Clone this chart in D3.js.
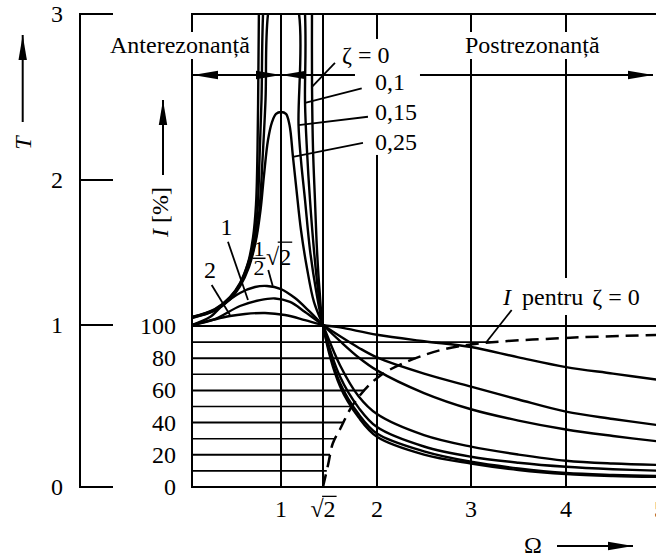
<!DOCTYPE html>
<html><head><meta charset="utf-8">
<script src="https://cdn.jsdelivr.net/npm/d3@7/dist/d3.min.js"></script>
<style>
html,body{margin:0;padding:0;background:#fff;}
svg{display:block;}
text{font-family:"Liberation Serif","Times New Roman",serif;fill:#000;}
</style></head><body>
<svg id="chart" width="656" height="558"></svg>
<script>
const SQ2 = Math.SQRT2;
// ---------- axis ticks ----------
const omegaTicks = [1, SQ2, 2, 3, 4, 5];
const omegaLabels = ["1", "√2", "2", "3", "4", "5"];
const omegaGrid = [1, SQ2, 2, 3, 4];
const tTicks = [0, 1, 2, 3];
const iTicks = [0, 20, 40, 60, 80, 100];
const iGridLevels = [10, 20, 30, 40, 50, 60, 70, 80, 90];

// ---------- transmissibility curves  [Ω, T] ----------
const zeta0 = [[0,1.055],[0.258,1.110],[0.427,1.193],[0.539,1.290],[0.629,1.428],[0.685,1.600],[0.719,1.828],[0.736,2.181],[0.747,2.723],[0.753,3.1],null,
  [1.306,3.15],[1.306,2.56],[1.316,2.181],[1.335,1.862],[1.355,1.517],[1.380,1.241],[1.414,1.0],
  [1.6,0.62],[1.8,0.43],[2,0.31],[2.5,0.2],[3,0.145],[3.5,0.105],[4,0.08],[4.5,0.068],[5,0.062]];
const zeta01 = [[0,1.055],[0.258,1.107],[0.427,1.19],[0.539,1.283],[0.629,1.421],[0.697,1.586],[0.736,1.793],[0.758,2.12],[0.781,2.482],[0.798,3.0],[1,5.0],
  [1.237,3.0],[1.237,2.464],[1.256,2.181],[1.286,1.862],[1.325,1.517],[1.365,1.241],[1.414,1.0],
  [1.6,0.64],[1.8,0.45],[2,0.33],[2.5,0.22],[3,0.156],[3.5,0.115],[4,0.087],[4.5,0.075],[5,0.068]];
const zeta015 = [[0,1.052],[0.258,1.103],[0.427,1.183],[0.539,1.276],[0.640,1.414],[0.713,1.586],[0.758,1.793],[0.792,2.12],[0.826,2.482],[0.854,3.0],[1,3.4],
  [1.178,3.0],[1.173,2.331],[1.197,2.12],[1.237,1.862],[1.286,1.517],[1.345,1.241],[1.414,1.0],
  [1.6,0.68],[1.8,0.49],[2,0.37],[2.5,0.25],[3,0.187],[3.5,0.15],[4,0.125],[4.5,0.11],[5,0.1]];
const zeta025 = [[0,1.048],[0.258,1.1],[0.427,1.176],[0.539,1.266],[0.640,1.4],[0.719,1.586],[0.770,1.793],[0.809,2.03],[0.854,2.241],[0.899,2.349],[0.944,2.398],[1,2.41],
  [1.049,2.398],[1.084,2.331],[1.118,2.139],[1.153,1.931],[1.197,1.655],[1.256,1.393],[1.325,1.159],[1.414,1.0],
  [1.6,0.75],[1.8,0.56],[2,0.45],[2.5,0.32],[3,0.249],[3.5,0.2],[4,0.162],[4.5,0.145],[5,0.136]];
const zetaHalfSqrt2 = [[0,1.0],[0.202,1.055],[0.348,1.138],[0.539,1.221],[0.708,1.262],[0.843,1.269],[1,1.248],[1.138,1.186],[1.286,1.09],[1.414,1.0],
  [1.6,0.9],[1.8,0.8],[2,0.72],[2.5,0.58],[3,0.48],[3.5,0.41],[4,0.355],[4.5,0.315],[5,0.28]];
const zeta1 = [[0,1.0],[0.258,1.041],[0.539,1.131],[0.764,1.172],[0.933,1.183],[1.089,1.159],[1.237,1.09],[1.414,1.0],
  [1.6,0.93],[1.8,0.86],[2,0.8],[2.5,0.7],[3,0.62],[3.5,0.54],[4,0.465],[4.5,0.42],[5,0.38]];
const zeta2 = [[0,1.0],[0.427,1.062],[0.596,1.076],[0.820,1.083],[1.039,1.069],[1.237,1.034],[1.414,1.0],
  [1.6,0.985],[2,0.94],[2.5,0.9],[3,0.864],[3.5,0.8],[4,0.74],[4.5,0.7],[5,0.66]];
// isolation degree for ζ = 0 : [Ω, I %]
const isolation0 = [[1.414,0],[1.47,14],[1.52,27],[1.6,36],[1.75,52],[2.03,69],[2.53,82.5],[3,88.5],[4,92.6],[5,94.4]];

const curves = [zeta0, zeta01, zeta015, zeta025, zetaHalfSqrt2, zeta1, zeta2];

// ---------- scales ----------
const W = 656, H = 558, FS = 24;
const svg = d3.select("#chart");
const x = d3.scaleLinear().domain([0,1,SQ2,2,3,4,5]).range([192,281,323,377,471,566,660]);
const yT = d3.scaleLinear().domain([0,1,2,3]).range([487,325,180,14]);
const yI = d3.scaleLinear().domain([0,100]).range([487,326]);

const defs = svg.append("defs");
defs.append("clipPath").attr("id","clip").append("rect")
  .attr("x", x(0)).attr("y", yT(3)).attr("width", W - x(0)).attr("height", yT(0) - yT(3));
defs.append("marker").attr("id","ah").attr("viewBox","0 -5 25 10").attr("refX",25).attr("refY",0)
  .attr("markerWidth",25).attr("markerHeight",10).attr("markerUnits","userSpaceOnUse")
  .attr("orient","auto-start-reverse")
  .append("path").attr("d","M0,-4.2L25,0L0,4.2Z").attr("fill","#000");

// ---------- frame & grid ----------
const gGrid = svg.append("g").attr("stroke","#000").attr("fill","none").attr("stroke-width",2);
gGrid.append("line").attr("x1",x(0)).attr("x2",x(0)).attr("y1",yT(0)).attr("y2",yT(3));
gGrid.append("line").attr("x1",x(0)-1).attr("x2",W).attr("y1",yT(3)).attr("y2",yT(3));
gGrid.append("line").attr("x1",x(0)-1).attr("x2",W).attr("y1",yT(0)).attr("y2",yT(0));
gGrid.selectAll(null).data(omegaGrid).join("line")
  .attr("x1",d=>x(d)).attr("x2",d=>x(d)).attr("y1",yT(0)).attr("y2",yT(3));
gGrid.append("line").attr("x1",x(0)).attr("x2",W).attr("y1",yI(100)).attr("y2",yI(100));

// zone arrows
const arrowY = 75;
const gArr = svg.append("g").attr("stroke","#000").attr("stroke-width",2);
gArr.append("line").attr("x1",x(0)+1).attr("x2",x(1)).attr("y1",arrowY).attr("y2",arrowY)
  .attr("marker-start","url(#ah)").attr("marker-end","url(#ah)");
gArr.append("line").attr("x1",x(1)).attr("x2",653).attr("y1",arrowY).attr("y2",arrowY)
  .attr("marker-start","url(#ah)").attr("marker-end","url(#ah)");

// ---------- curves ----------
const gCurves = svg.append("g").attr("clip-path","url(#clip)");
const lineT = d3.line().defined(d => d !== null).x(d => x(d[0])).y(d => yT(d[1])).curve(d3.curveCatmullRom.alpha(0.5));
const lineI = d3.line().x(d => x(d[0])).y(d => yI(d[1])).curve(d3.curveCatmullRom.alpha(0.5));
const dashPath = gCurves.append("path").datum(isolation0).attr("d", lineI)
  .attr("fill","none").attr("stroke","#000").attr("stroke-width",2.5).attr("stroke-dasharray","13,7");

// horizontal I grid lines stop at the dashed curve
const dn = dashPath.node(), L = dn.getTotalLength();
const samples = d3.range(0, L, 0.5).map(l => dn.getPointAtLength(l));
const gIGrid = svg.insert("g", "g").attr("stroke","#000").attr("fill","none");
iGridLevels.forEach(lv => {
  const yy = yI(lv);
  const p = samples.find(s => s.y <= yy);
  gIGrid.append("line").attr("x1",x(0)).attr("x2",p ? p.x : W).attr("y1",yy).attr("y2",yy)
    .attr("stroke-width", lv % 20 === 0 ? 2 : 1.6);
});

gCurves.selectAll(null).data(curves).join("path").attr("d", lineT)
  .attr("fill","none").attr("stroke","#000").attr("stroke-width",2.4).attr("stroke-linejoin","round");

// ---------- labels with white backgrounds ----------
const gBg = svg.append("g");
const gTxt = svg.append("g").attr("font-size",FS);
function addText(px, py, parts, anchor) {
  const t = gTxt.append("text").attr("x",px).attr("y",py).attr("text-anchor",anchor || "start");
  parts.forEach(p => {
    const ts = t.append("tspan").text(p.t);
    if (p.i) ts.attr("font-style","italic");
    if (p.dx) ts.attr("dx", p.dx);
  });
  return t;
}
function bg(node, pl, pr, pt, pb) {
  const b = node.getBBox();
  gBg.append("rect").attr("x",b.x-pl).attr("y",b.y-pt).attr("width",b.width+pl+pr).attr("height",b.height+pt+pb).attr("fill","#fff");
}
const tA = addText(110, 53, [{t:"Anterezonanță"}]);
bg(tA.node(),2,2,0,1);
const tP = addText(465, 53, [{t:"Postrezonanță"}]);
bg(tP.node(),2,2,0,1);

// curve labels (positions in data units)
const zLab = addText(x(1.62), yT(2.705), [{t:"ζ = 0"}]);
bg(zLab.node(),3,3,3,3);
const numLabels = [
  {t:"0,1",  at:[1.978,2.542]},
  {t:"0,15", at:[1.978,2.361]},
  {t:"0,25", at:[1.978,2.181]}
].map(d => addText(x(d.at[0]), yT(d.at[1]), [{t:d.t}]));
{
  const bbs = numLabels.map(n => n.node().getBBox());
  const x0 = d3.min(bbs, b=>b.x) - 20, x1 = d3.max(bbs, b=>b.x+b.width) + 3;
  const y0 = d3.min(bbs, b=>b.y), y1 = d3.max(bbs, b=>b.y+b.height);
  gBg.append("rect").attr("x",x0).attr("y",y0).attr("width",x1-x0).attr("height",y1-y0).attr("fill","#fff");
}
const iLab = addText(x(3.337), yT(1.138), [{t:"I", i:true},{t:"pentru", dx:11},{t:"ζ = 0", dx:9}]);
bg(iLab.node(),3,3,6,5);
addText(x(0.388), yT(1.621), [{t:"1"}], "middle");
addText(x(0.202), yT(1.324), [{t:"2"}], "middle");

// ½√2 label : a single text element (numerator, denominator, radical)
const fx = x(0.753);
const half = gTxt.append("text").attr("text-anchor","start");
half.append("tspan").attr("x",fx-5.5).attr("y",yT(1.478)).attr("font-size",22).text("1");
half.append("tspan").attr("x",fx-5.5).attr("y",yT(1.345)).attr("font-size",22).text("2");
half.append("tspan").attr("x",x(0.832)).attr("y",yT(1.414)).text("√2");
function overline(n, i0, by, k) {
  const e0 = n.getExtentOfChar(i0), e1 = n.getExtentOfChar(i0+1);
  gTxt.append("line").attr("x1", e0.x + e0.width - 1.5).attr("x2", e1.x + e1.width + 1)
    .attr("y1", by - k*FS).attr("y2", by - k*FS).attr("stroke","#000").attr("stroke-width",1.3);
}
overline(half.node(), 2, yT(1.414), 0.95);

// leaders
const leaders = [
  [[1.544,2.705],[1.303,2.560]],
  [[1.834,2.552],[1.237,2.464]],
  [[1.902,2.381],[1.173,2.331]],
  [[1.848,2.223],[1.118,2.139]],
  [[3.428,1.103],[3.165,0.897]],
  [[0.404,1.574],[0.629,1.172]],
  [[0.221,1.276],[0.427,1.069]],
  [[0.857,1.379],[0.907,1.269]]
];
svg.append("g").attr("stroke","#000").attr("stroke-width",1.8).selectAll(null).data(leaders).join("line")
  .attr("x1",d=>x(d[0][0])).attr("y1",d=>yT(d[0][1])).attr("x2",d=>x(d[1][0])).attr("y2",d=>yT(d[1][1]));
{
  const fb = yT(1.46);
  svg.append("line").attr("x1",fx-6.5).attr("x2",fx+6.5).attr("y1",fb).attr("y2",fb).attr("stroke","#000").attr("stroke-width",1.5);
}

// ---------- axes outside plot ----------
// T axis
const gT = svg.append("g").attr("stroke","#000").attr("stroke-width",2);
gT.append("line").attr("x1",80).attr("x2",80).attr("y1",yT(0)+1).attr("y2",yT(3)-1);
gT.selectAll(null).data(tTicks).join("line").attr("x1",80).attr("x2",113).attr("y1",d=>yT(d)).attr("y2",d=>yT(d));
gTxt.selectAll(null).data(tTicks).join("text").attr("x",63).attr("y",d=>yT(d)+8).attr("text-anchor","end").text(d=>d);
// I axis labels
gTxt.selectAll(null).data(iTicks).join("text").attr("x",176).attr("y",d=>yI(d)+8).attr("text-anchor","end").text(d=>d);
// Ω labels
const xl = gTxt.selectAll(null).data(omegaTicks).join("text").attr("x",d=>x(d)).attr("y",517).attr("text-anchor","middle").text((d,i)=>omegaLabels[i]);
xl.filter((d,i)=>omegaLabels[i]==="√2").each(function(){ overline(this, 0, 517, 0.86); });

// axis titles with arrows
gTxt.append("text").attr("transform","translate(31,143) rotate(-90)").attr("text-anchor","middle").attr("font-style","italic").text("T");
svg.append("line").attr("x1",22.7).attr("x2",22.7).attr("y1",122).attr("y2",35).attr("stroke","#000").attr("stroke-width",2).attr("marker-end","url(#ah)");
{
  const t = gTxt.append("text").attr("transform","translate(168,212) rotate(-90)").attr("text-anchor","middle");
  t.append("tspan").attr("font-style","italic").text("I");
  t.append("tspan").text(" [%]");
}
svg.append("line").attr("x1",163).attr("x2",163).attr("y1",175).attr("y2",100).attr("stroke","#000").attr("stroke-width",2).attr("marker-end","url(#ah)");
gTxt.append("text").attr("x",533).attr("y",553).attr("text-anchor","middle").text("Ω");
svg.append("line").attr("x1",557).attr("x2",633).attr("y1",546).attr("y2",546).attr("stroke","#000").attr("stroke-width",2).attr("marker-end","url(#ah)");
</script>
</body></html>
